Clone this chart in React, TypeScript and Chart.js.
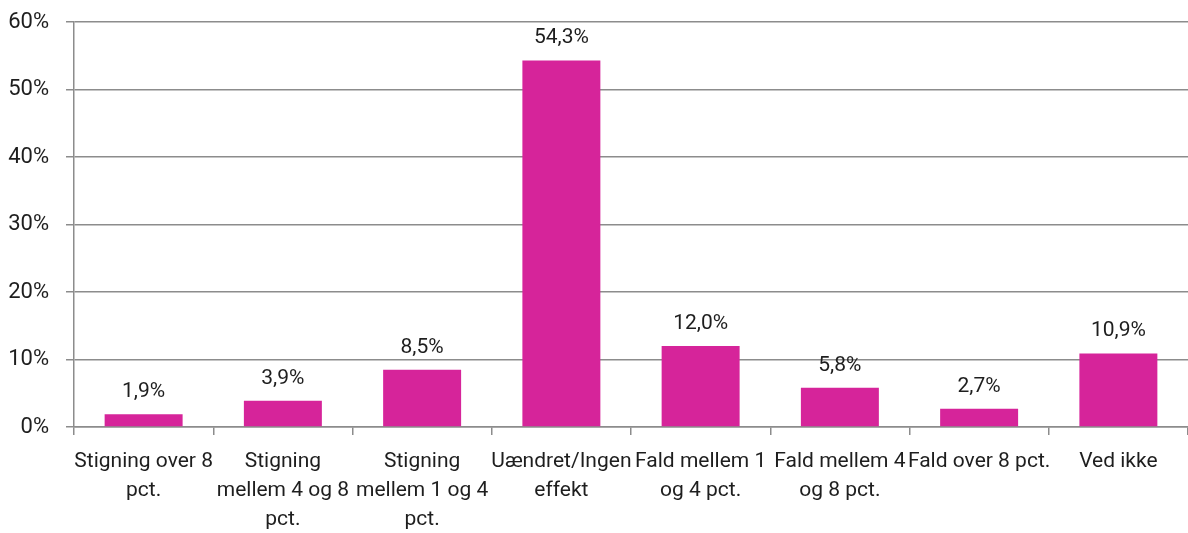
import React, { useEffect, useRef } from "react";
import { Chart, registerables } from "chart.js";

Chart.register(...registerables);

const categories: string[][] = [
  ["Stigning over 8", "pct."],
  ["Stigning", "mellem 4 og 8", "pct."],
  ["Stigning", "mellem 1 og 4", "pct."],
  ["Uændret/Ingen", "effekt"],
  ["Fald mellem 1", "og 4 pct."],
  ["Fald mellem 4", "og 8 pct."],
  ["Fald over 8 pct."],
  ["Ved ikke"],
];
const values: number[] = [1.9, 3.9, 8.5, 54.3, 12.0, 5.8, 2.7, 10.9];
const valueLabels: string[] = ["1,9%", "3,9%", "8,5%", "54,3%", "12,0%", "5,8%", "2,7%", "10,9%"];
const yTicks: number[] = [0, 10, 20, 30, 40, 50, 60];

const FONT = "Roboto, 'Liberation Sans', sans-serif";
const BAR = "#D6249A";
const GRID = "#8c8c8c";
const TEXT = "#1e1e1e";

const labelPlugin = {
  id: "valueLabels",
  afterDatasetsDraw(chart: any) {
    const ctx = chart.ctx;
    const meta = chart.getDatasetMeta(0);
    ctx.save();
    ctx.font = `21px ${FONT}`;
    ctx.fillStyle = TEXT;
    ctx.textAlign = "center";
    ctx.textBaseline = "alphabetic";
    meta.data.forEach((el: any, i: number) => {
      ctx.fillText(valueLabels[i], el.x, el.y - 17);
    });
    ctx.restore();
  },
};

export default function App() {
  const ref = useRef<HTMLCanvasElement | null>(null);
  useEffect(() => {
    document.body.style.margin = "0";
    const chart = new Chart(ref.current!, {
      type: "bar",
      data: {
        labels: categories,
        datasets: [
          {
            data: values,
            backgroundColor: BAR,
            categoryPercentage: 0.56,
            barPercentage: 1,
          },
        ],
      },
      options: {
        animation: false,
        responsive: false,
        maintainAspectRatio: false,
        layout: { padding: { top: 22, right: 0, left: 0, bottom: 0 } },
        plugins: { legend: { display: false }, tooltip: { enabled: false } },
        scales: {
          x: {
            offset: true,
            grid: {
              offset: true,
              drawOnChartArea: false,
              drawTicks: true,
              tickLength: 8,
              color: GRID,
              lineWidth: 1.5,
            },
            border: { display: true, color: GRID, width: 1.5 },
            ticks: {
              font: { family: FONT, size: 21, lineHeight: 1.38 },
              color: TEXT,
              padding: 12,
              maxRotation: 0,
              autoSkip: false,
            },
            afterFit(scale: any) {
              scale.height = 106;
              scale.paddingLeft = 0;
              scale.paddingRight = 0;
            },
          },
          y: {
            min: 0,
            max: 60,
            afterBuildTicks(scale: any) {
              scale.ticks = yTicks.map((v) => ({ value: v }));
            },
            grid: {
              color: GRID,
              lineWidth: 1.5,
              tickLength: 8,
              drawTicks: true,
            },
            border: { display: true, color: GRID, width: 1.5 },
            ticks: {
              font: { family: FONT, size: 22 },
              color: TEXT,
              padding: 17,
              callback: (v: any) => `${v}%`,
            },
            afterFit(scale: any) {
              scale.width = 74;
              scale.paddingTop = 0;
              scale.paddingBottom = 0;
            },
          },
        },
      },
      plugins: [labelPlugin],
    });
    return () => chart.destroy();
  }, []);
  return (
    <div style={{ position: "absolute", left: 0, top: 0, width: 1188, height: 533 }}>
      <canvas ref={ref} width={1188} height={533} style={{ width: 1188, height: 533 }} />
    </div>
  );
}
